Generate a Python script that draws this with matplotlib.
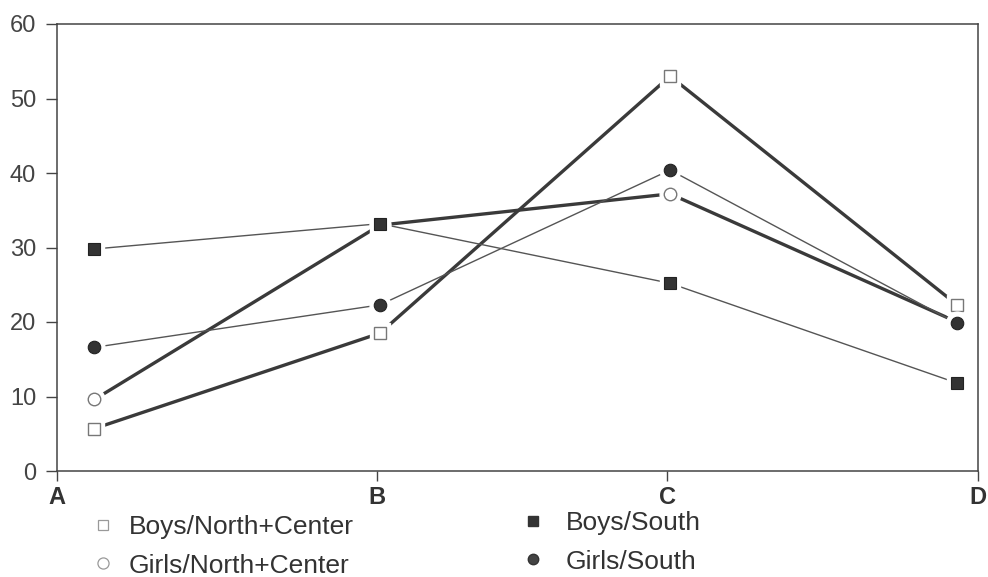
import matplotlib
matplotlib.use("Agg")
import matplotlib.pyplot as plt
from matplotlib.lines import Line2D

plt.rcParams['font.family'] = ['Liberation Sans', 'DejaVu Sans']

# ---- data ----
categories = ['A', 'B', 'C', 'D']
series_labels = ['Boys/North+Center', 'Girls/North+Center', 'Boys/South', 'Girls/South']
boys_nc = [5.7, 18.5, 53.0, 22.3]
girls_nc = [9.6, 33.0, 37.2, 20.0]
boys_s = [29.8, 33.2, 25.2, 11.8]
girls_s = [16.6, 22.3, 40.4, 19.8]
yticks = [0, 10, 20, 30, 40, 50, 60]

# ---- layout ----
tick_pos = [0.0, 1.042, 1.987, 3.0]      # category tick positions on the x axis
point_pos = [0.122, 1.052, 1.997, 2.932]  # where the markers sit

fig = plt.figure(figsize=(9.88, 5.77), dpi=100)
ax = fig.add_axes([57/988, 1 - 471/577, (978-57)/988, (471-24)/577])

THICK = '#3a3a3a'
THIN = '#555555'
styles = [
    dict(values=boys_nc, lw=2.4, lc=THICK, marker='s', mfc='white', mec='#777777', mew=1.0, ms=8.5),
    dict(values=girls_nc, lw=2.4, lc=THICK, marker='o', mfc='white', mec='#777777', mew=1.0, ms=9),
    dict(values=boys_s, lw=1.0, lc=THIN, marker='s', mfc='#333333', mec='#222222', mew=0.8, ms=8),
    dict(values=girls_s, lw=1.0, lc=THIN, marker='o', mfc='#333333', mec='#222222', mew=0.8, ms=9),
]

for s in styles:
    ax.plot(point_pos, s['values'], color=s['lc'], lw=s['lw'], zorder=2,
            solid_capstyle='butt')
z = 3
for s in styles:
    ax.plot(point_pos, s['values'], linestyle='none', marker=s['marker'],
            ms=s['ms'] + 6, mfc='white', mec='white', zorder=z)
    ax.plot(point_pos, s['values'], linestyle='none', marker=s['marker'],
            ms=s['ms'], mfc=s['mfc'], mec=s['mec'], mew=s['mew'], zorder=z + 1)
    z += 2

ax.set_xlim(0, 3)
ax.set_ylim(0, 60)
ax.set_xticks(tick_pos)
ax.set_xticklabels(categories, fontsize=17, fontweight='bold', color='#333333')
ax.set_yticks(yticks)
ax.set_yticklabels([str(v) for v in yticks], fontsize=17, color='#444444')
ax.tick_params(axis='y', direction='out', length=8, width=1.0, color='#444444', pad=7)
ax.tick_params(axis='x', direction='out', length=7, width=1.0, color='#444444', pad=4)
for sp in ax.spines.values():
    sp.set_color('#444444')
    sp.set_linewidth(1.1)

# ---- legend ----
handles = [
    Line2D([], [], linestyle='none', marker='s', ms=7, mfc='white', mec='#999999', mew=0.9),
    Line2D([], [], linestyle='none', marker='o', ms=8, mfc='white', mec='#999999', mew=0.9),
    Line2D([], [], linestyle='none', marker='s', ms=7.5, mfc='#333333', mec='#333333'),
    Line2D([], [], linestyle='none', marker='o', ms=7.5, mfc='#444444', mec='#333333'),
]
leg_kw = dict(loc='upper left', frameon=False, fontsize=19, borderpad=0,
              borderaxespad=0, handlelength=1.0, labelspacing=0.55,
              bbox_transform=fig.transFigure, labelcolor='#333333')
leg1 = ax.legend(handles[:2], series_labels[:2], bbox_to_anchor=(89.7/988, 1 - 515/577),
                 handletextpad=0.47, **leg_kw)
ax.add_artist(leg1)
ax.legend(handles[2:], series_labels[2:], bbox_to_anchor=(520/988, 1 - 511/577),
          handletextpad=0.72, **leg_kw)

fig.savefig('out.png', dpi=100)
